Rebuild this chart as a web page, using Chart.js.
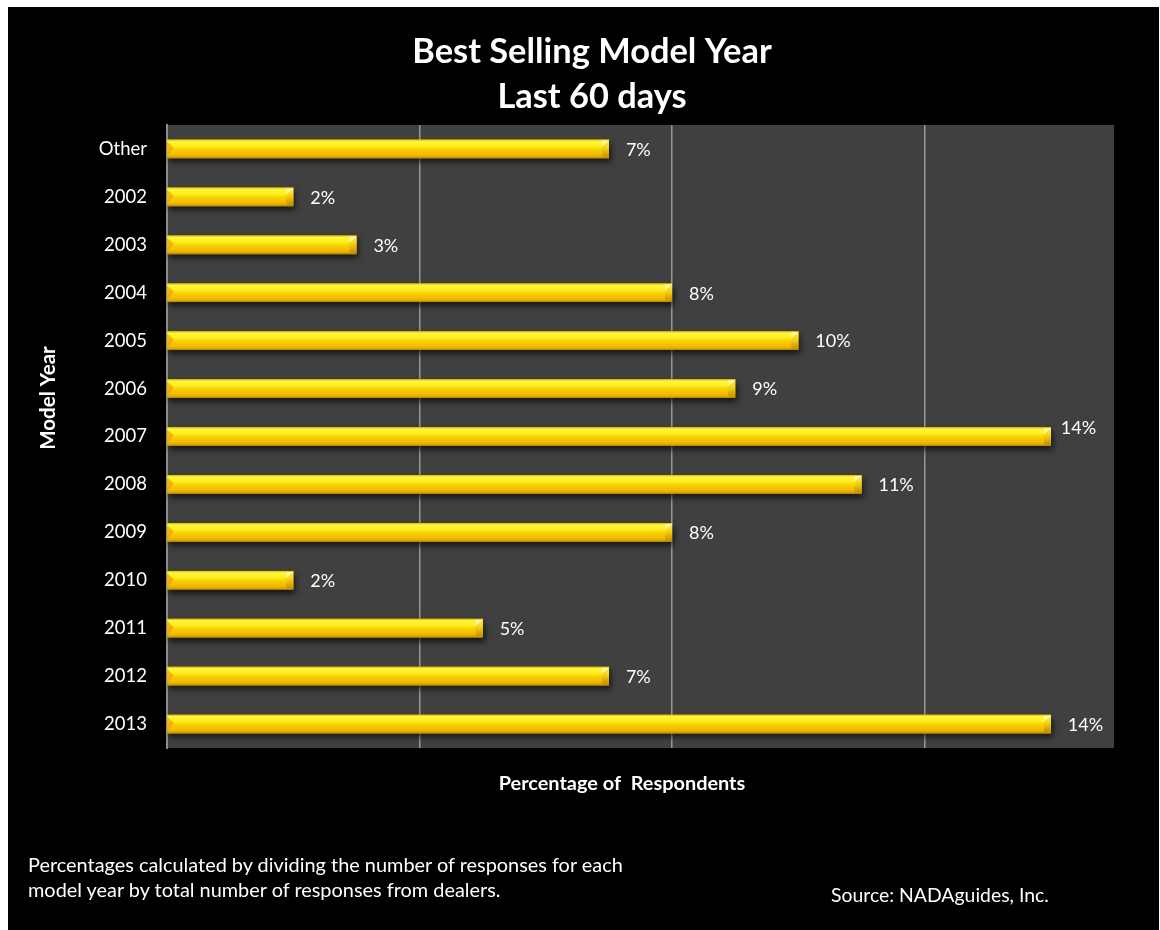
<!DOCTYPE html>
<html>
<head>
<meta charset="utf-8">
<script src="https://cdn.jsdelivr.net/npm/chart.js@4/dist/chart.umd.min.js"></script>
<style>
  html, body { margin: 0; padding: 0; background: #ffffff; }
  #frame { position: absolute; left: 8px; top: 7px; width: 1151px; height: 923px; background: #000000; }
  #wrap { position: absolute; left: 0; top: 0; width: 1151px; height: 923px; }
  .note { position: absolute; color: #ffffff; font-family: Lato, "Open Sans", sans-serif; line-height: 25px; white-space: nowrap; }
  #foot { left: 20px; top: 845px; font-size: 19.9px; }
  #source { left: 823px; top: 875px; font-size: 19.4px; }
</style>
</head>
<body>
<div id="frame">
  <div id="wrap"><canvas id="chart"></canvas></div>
  <div class="note" id="foot">Percentages calculated by dividing the number of responses for each<br>model year by total number of responses from dealers.</div>
  <div class="note" id="source">Source: NADAguides, Inc.</div>
</div>
<script>
// Model years, top to bottom
const modelYears = ['Other', '2002', '2003', '2004', '2005', '2006', '2007', '2008', '2009', '2010', '2011', '2012', '2013'];
// Share of dealer responses (%)
const shareOfResponses = [7, 2, 3, 8, 10, 9, 14, 11, 8, 2, 5, 7, 14];
// Vertical gridline values (%)
const gridValues = [4, 8, 12];
const axisMax = 15;

const titleLines = ['Best Selling Model Year', 'Last 60 days'];
const yAxisTitle = 'Model Year';
const xAxisTitle = 'Percentage of  Respondents';

const FONT = 'Lato, "Open Sans", sans-serif';

// Value labels that sit a little off their usual spot
const labelNudge = { '2007': { dx: -7, dy: -9 } };

// Dark plot background
const plotBackground = {
  id: 'plotBackground',
  beforeDraw(chart) {
    const { ctx, chartArea: a } = chart;
    ctx.save();
    ctx.fillStyle = '#404040';
    ctx.fillRect(a.left, a.top, a.right - a.left, a.bottom - a.top);
    ctx.restore();
  }
};

// Glossy, bevelled bars with a soft drop shadow
const glossyBars = {
  id: 'glossyBars',
  beforeDatasetDraw(chart) {
    const ctx = chart.ctx;
    ctx.save();
    ctx.shadowColor = 'rgba(0,0,0,0.65)';
    ctx.shadowBlur = 6;
    ctx.shadowOffsetX = 2;
    ctx.shadowOffsetY = 4;
  },
  afterDatasetDraw(chart, args) {
    const ctx = chart.ctx;
    ctx.restore();
    const meta = args.meta;
    meta.data.forEach((bar) => {
      const p = bar.getProps(['x', 'y', 'base', 'height'], true);
      const x0 = Math.min(p.base, p.x), x1 = Math.max(p.base, p.x);
      const y0 = p.y - p.height / 2, y1 = p.y + p.height / 2;
      const h = y1 - y0;
      ctx.save();
      const g = ctx.createLinearGradient(0, y0, 0, y1);
      g.addColorStop(0.00, '#d9b800');
      g.addColorStop(0.10, '#fff53a');
      g.addColorStop(0.35, '#ffee22');
      g.addColorStop(0.50, '#fbd300');
      g.addColorStop(0.80, '#f2ba00');
      g.addColorStop(0.92, '#e0a800');
      g.addColorStop(1.00, '#a97f00');
      ctx.fillStyle = g;
      ctx.fillRect(x0, y0, x1 - x0, h);
      const b = Math.min(7, (x1 - x0) / 3);
      // left bevel
      ctx.fillStyle = 'rgba(235,165,0,0.7)';
      ctx.beginPath();
      ctx.moveTo(x0, y0 + 2);
      ctx.lineTo(x0 + b, y0 + h * 0.45);
      ctx.lineTo(x0, y1 - 2);
      ctx.closePath();
      ctx.fill();
      // right bevel
      const rg = ctx.createLinearGradient(0, y0, 0, y1);
      rg.addColorStop(0, '#fff066');
      rg.addColorStop(0.45, '#f7cf10');
      rg.addColorStop(1, '#b88a00');
      ctx.fillStyle = rg;
      ctx.beginPath();
      ctx.moveTo(x1, y0);
      ctx.lineTo(x1, y1);
      ctx.lineTo(x1 - b, y1 - 2);
      ctx.lineTo(x1 - b, y0 + b);
      ctx.closePath();
      ctx.fill();
      ctx.fillStyle = 'rgba(255,250,170,0.9)';
      ctx.beginPath();
      ctx.moveTo(x1 - b, y0 + 1);
      ctx.lineTo(x1, y0 + 1);
      ctx.lineTo(x1 - b, y0 + b);
      ctx.closePath();
      ctx.fill();
      ctx.restore();
    });
  }
};

// Percentage labels at the bar ends
const valueLabels = {
  id: 'valueLabels',
  afterDatasetsDraw(chart) {
    const ctx = chart.ctx;
    const meta = chart.getDatasetMeta(0);
    const ds = chart.data.datasets[0];
    ctx.save();
    ctx.fillStyle = '#ffffff';
    ctx.font = '18px ' + FONT;
    ctx.textAlign = 'left';
    ctx.textBaseline = 'middle';
    meta.data.forEach((bar, i) => {
      const n = labelNudge[chart.data.labels[i]] || { dx: 0, dy: 0 };
      ctx.fillText(ds.data[i] + '%', bar.x + 17 + n.dx, bar.y + 1 + n.dy);
    });
    ctx.restore();
  }
};

// Chart title and axis titles
const titles = {
  id: 'titles',
  afterDraw(chart) {
    const ctx = chart.ctx;
    ctx.save();
    ctx.fillStyle = '#ffffff';
    ctx.textAlign = 'center';
    ctx.textBaseline = 'middle';
    ctx.font = 'bold 34.4px ' + FONT;
    ctx.fillText(titleLines[0], 584, 45);
    ctx.fillText(titleLines[1], 584, 90);
    ctx.font = 'bold 19.9px ' + FONT;
    ctx.fillText(xAxisTitle, 614, 777);
    ctx.font = 'bold 20.5px ' + FONT;
    ctx.translate(40, 391);
    ctx.rotate(-Math.PI / 2);
    ctx.fillText(yAxisTitle, 0, 0);
    ctx.restore();
  }
};

new Chart(document.getElementById('chart'), {
  type: 'bar',
  data: {
    labels: modelYears,
    datasets: [{
      data: shareOfResponses,
      backgroundColor: '#f2bc00',
      borderWidth: 0,
      categoryPercentage: 1,
      barPercentage: 0.39
    }]
  },
  options: {
    indexAxis: 'y',
    responsive: true,
    maintainAspectRatio: false,
    animation: false,
    layout: { padding: { top: 118, right: 45, bottom: 182, left: 0 } },
    plugins: { legend: { display: false }, title: { display: false }, tooltip: { enabled: false } },
    scales: {
      x: {
        min: 0,
        max: axisMax,
        afterBuildTicks(scale) {
          scale.ticks = gridValues.map(v => ({ value: v }));
        },
        afterFit(scale) { scale.height = 0; },
        ticks: { display: false },
        grid: { color: '#979797', lineWidth: 1.5, drawTicks: false },
        border: { display: false }
      },
      y: {
        afterFit(scale) { scale.width = 159; },
        ticks: { color: '#ffffff', font: { family: FONT, size: 18.5 }, padding: 20 },
        grid: { display: false, drawTicks: false },
        border: { display: true, color: '#8c8c8c', width: 2 }
      }
    }
  },
  plugins: [plotBackground, glossyBars, valueLabels, titles]
});
</script>
</body>
</html>
